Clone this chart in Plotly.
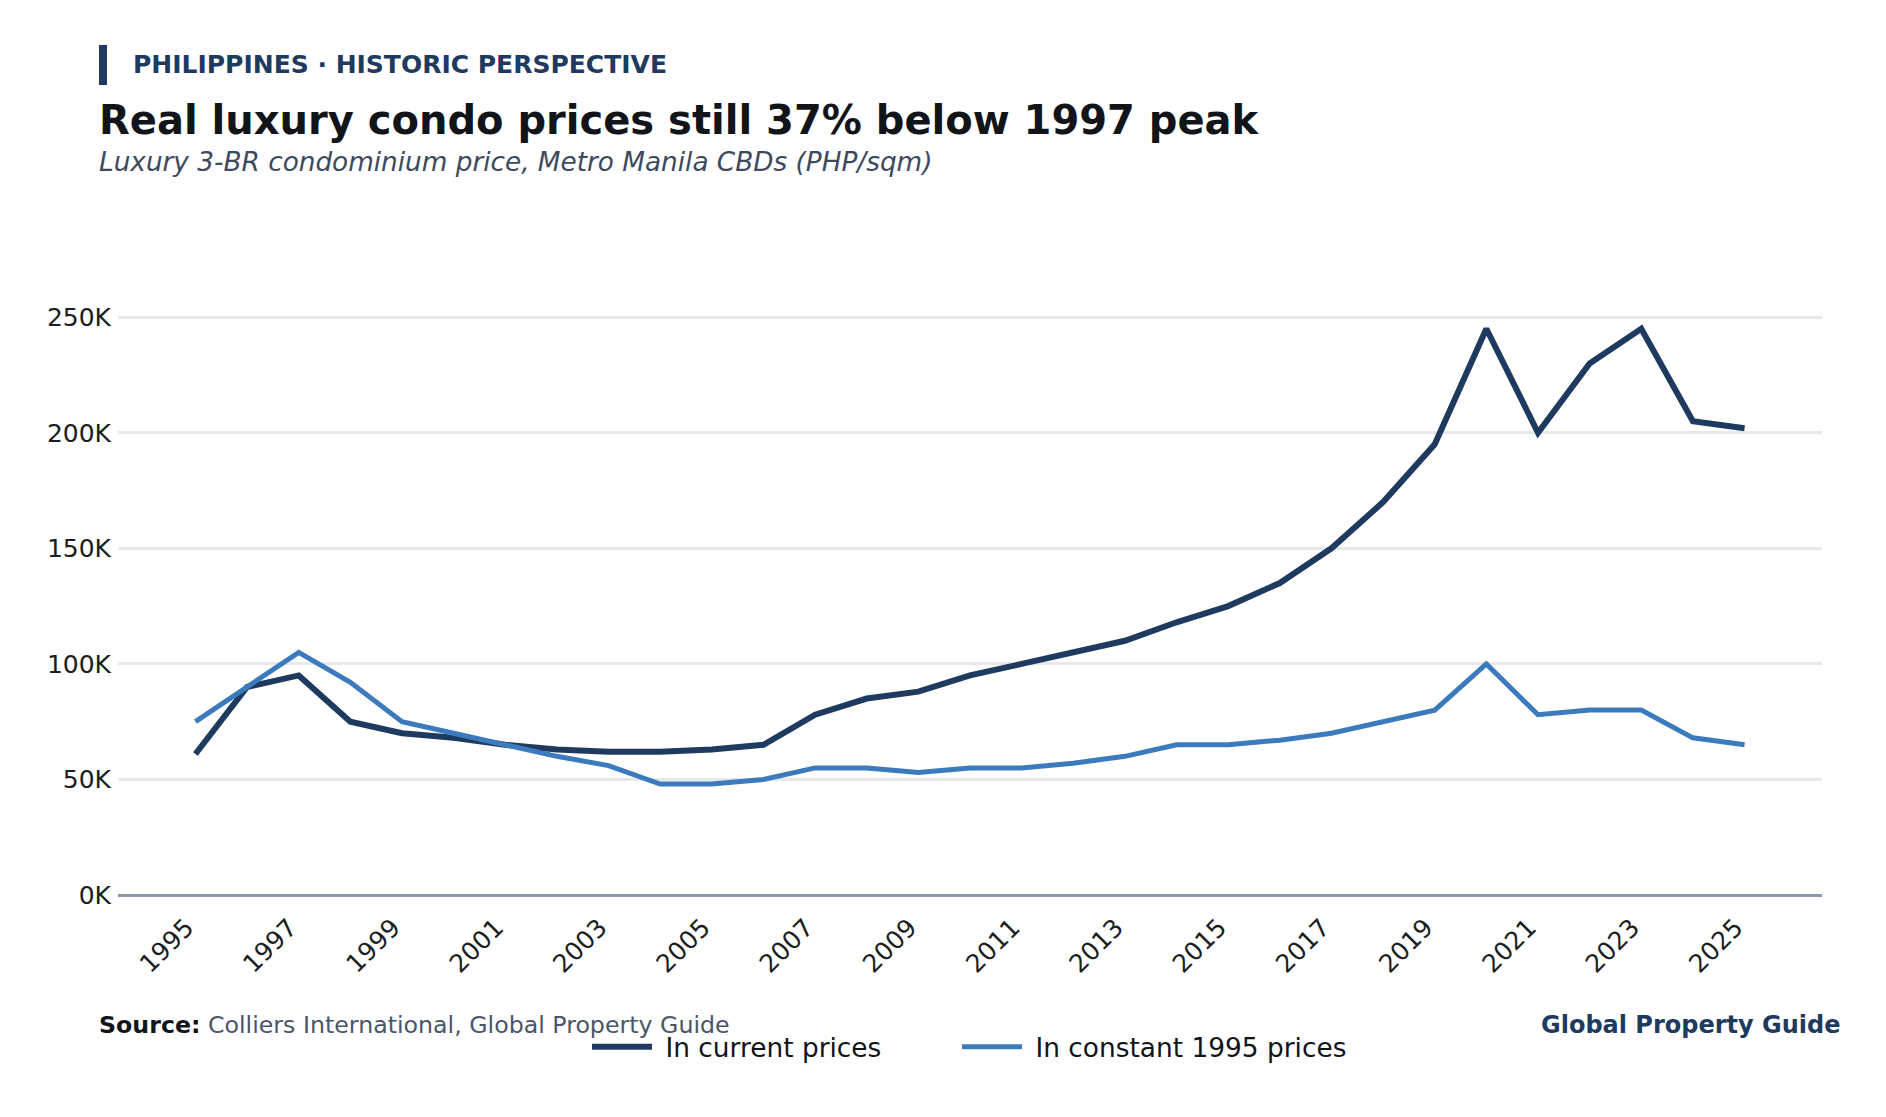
import plotly.graph_objects as go

# ---------------- data ----------------
years = list(range(1995, 2026))
current_prices = [61000, 90000, 95000, 75000, 70000, 68000, 65000, 63000, 62000, 62000,
                  63000, 65000, 78000, 85000, 88000, 95000, 100000, 105000, 110000, 118000,
                  125000, 135000, 150000, 170000, 195000, 245000, 200000, 230000, 245000, 205000,
                  202000]
constant_1995_prices = [75000, 90000, 105000, 92000, 75000, 70000, 65000, 60000, 56000, 48000,
                        48000, 50000, 55000, 55000, 53000, 55000, 55000, 57000, 60000, 65000,
                        65000, 67000, 70000, 75000, 80000, 100000, 78000, 80000, 80000, 68000,
                        65000]
series_names = ["In current prices", "In constant 1995 prices"]
y_tick_values = [0, 50000, 100000, 150000, 200000, 250000]
y_tick_labels = [f"{v // 1000}K" for v in y_tick_values]
x_tick_values = list(range(1995, 2026, 2))

# ---------------- style ----------------
W, H = 1886, 1117
L, R, T, B = 118, 1822, 271, 895          # plot area in pixels
NAVY = "#1f3a5f"
BLUE = "#3b7bbd"
FONT = "DejaVu Sans"


def xp(px):
    return (px - L) / (R - L)


def yp(py):
    return (B - py) / (B - T)


fig = go.Figure()
fig.add_trace(go.Scatter(x=years, y=current_prices, mode="lines", name="\u00a0" + series_names[0],
                         line=dict(color=NAVY, width=6), legend="legend"))
fig.add_trace(go.Scatter(x=years, y=constant_1995_prices, mode="lines", name="\u00a0" + series_names[1],
                         line=dict(color=BLUE, width=5), legend="legend2"))

annotations = [
    dict(text="<b>PHILIPPINES · HISTORIC PERSPECTIVE</b>", x=xp(131), y=yp(64),
         font=dict(size=25, color=NAVY, family=FONT)),
    dict(text="<b>Real luxury condo prices still 37% below 1997 peak</b>", x=xp(97), y=yp(120),
         font=dict(size=40, color="#111418", family=FONT)),
    dict(text="<i>Luxury 3-BR condominium price, Metro Manila CBDs (PHP/sqm)</i>", x=xp(97), y=yp(162),
         font=dict(size=26.3, color="#3d4a5e", family=FONT)),
    dict(text="<b>Source:</b> <span style='color:#4a5568'>Colliers International, Global Property Guide</span>",
         x=xp(97), y=yp(1025), font=dict(size=23.7, color="#111418", family=FONT)),
]
annotations = [dict(a, xref="paper", yref="paper", xanchor="left", yanchor="middle",
                    showarrow=False) for a in annotations]
annotations.append(dict(text="<b>Global Property Guide</b>", xref="paper", yref="paper",
                        x=xp(1843), y=yp(1025), xanchor="right", yanchor="middle", showarrow=False,
                        font=dict(size=24, color=NAVY, family=FONT)))

legend_common = dict(orientation="h", xanchor="left", y=yp(1047), yanchor="middle",
                     font=dict(size=26.4, color="#111418", family=FONT), itemwidth=60,
                     bgcolor="rgba(0,0,0,0)", borderwidth=0)

fig.update_layout(
    width=W, height=H,
    margin=dict(l=L, r=W - R, t=T, b=H - B, pad=0),
    paper_bgcolor="white", plot_bgcolor="white",
    font=dict(family=FONT, size=25, color="#1a1d21"),
    annotations=annotations,
    shapes=[dict(type="rect", xref="paper", yref="paper", x0=xp(99), x1=xp(107),
                 y0=yp(85), y1=yp(45), fillcolor=NAVY, line=dict(width=0))],
    showlegend=True,
    legend=dict(legend_common, x=xp(587)),
    legend2=dict(legend_common, x=xp(957)),
    xaxis=dict(range=[1993.5, 2026.5], tickvals=x_tick_values, tickangle=-45,
               showgrid=False, zeroline=False, showline=False, ticks="",
               ticklabelstandoff=12, ticklabelshift=-9,
               tickfont=dict(size=25, color="#1a1d21")),
    yaxis=dict(range=[0, 270000], tickvals=y_tick_values, ticktext=y_tick_labels,
               showgrid=True, gridcolor="#e6e8ec", gridwidth=2.5,
               zeroline=True, zerolinecolor="#8e9aab", zerolinewidth=3,
               showline=False, ticks="", ticklabelstandoff=6,
               tickfont=dict(size=25, color="#1a1d21")),
)

fig.write_html("out.html")
